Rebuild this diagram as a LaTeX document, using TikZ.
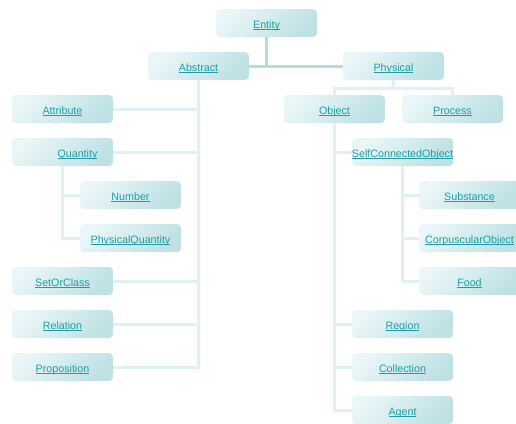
\documentclass[tikz,border=0pt]{standalone}
\usepackage{fontspec}
\setmainfont{Liberation Sans}

\definecolor{boxlight}{HTML}{EAF6F7}
\definecolor{boxdark}{HTML}{BEE1E4}
\definecolor{linktext}{HTML}{1E9EA6}
\definecolor{linelight}{HTML}{DFF1F2}
\definecolor{linedark}{HTML}{B3DDE0}

\newcommand{\lnk}[1]{\setbox0\hbox{#1}\rlap{\rule[-1.4pt]{\wd0}{0.6pt}}\box0}

\tikzset{
  cls/.style={rounded corners=4pt, minimum width=101pt, minimum height=28pt,
    inner sep=0pt, text height=10pt, text depth=0pt,
    top color=boxlight, bottom color=boxdark, shading angle=45,
    text=linktext, font=\fontsize{10.7}{12}\selectfont},
  branch/.style={draw=linelight, line width=3pt},
  trunk/.style={draw=linedark, line width=3pt}
}

\begin{document}
\begin{tikzpicture}[x=1pt, y=-1pt]
    \useasboundingbox (0,0) rectangle (516,423);
    \clip (0,0) rectangle (516,423);

    % 根节点
    \node[cls] (Entity) at (266.5,23) {\lnk{Entity}};
    \node[cls] (Abstract) at (198.5,66) {\lnk{Abstract}};
    \node[cls] (Physical) at (393.5,66) {\lnk{Physical}};

    % Abstract 的子类
    \node[cls] (Attribute) at (62.5,109) {\lnk{Attribute}};
    \node[cls] (Quantity) at (62.5,152) {\hspace*{30pt}\lnk{Quantity}};
    \node[cls] (Number) at (130.5,195) {\lnk{Number}};
    \node[cls] (PhysicalQuantity) at (130.5,238) {\lnk{PhysicalQuantity}};
    \node[cls] (SetOrClass) at (62.5,281) {\lnk{SetOrClass}};
    \node[cls] (Relation) at (62.5,324) {\lnk{Relation}};
    \node[cls] (Proposition) at (62.5,367) {\lnk{Proposition}};

    % Physical 的子类
    \node[cls] (Object) at (334.5,109) {\lnk{Object}};
    \node[cls] (Process) at (452.5,109) {\lnk{Process}};
    \node[cls] (SelfConnectedObject) at (402.5,152) {\lnk{SelfConnectedObject}};
    \node[cls] (Substance) at (469.5,195) {\lnk{Substance}};
    \node[cls] (CorpuscularObject) at (469.5,238) {\lnk{CorpuscularObject}};
    \node[cls] (Food) at (469.5,281) {\lnk{Food}};
    \node[cls] (Region) at (402.5,324) {\lnk{Region}};
    \node[cls] (Collection) at (402.5,367) {\lnk{Collection}};
    \node[cls] (Agent) at (402.5,410) {\lnk{Agent}};

    % 顶层连线
    \draw[trunk] (Entity.south) -- (Entity.south |- Abstract.east);
    \draw[trunk] (Abstract.east) -- (Physical.west);

    % 树枝连线
    \foreach \c in {Attribute,Quantity,SetOrClass,Relation,Proposition}
        \draw[branch] (Abstract.south) |- (\c.east);
    \foreach \c in {Number,PhysicalQuantity}
        \draw[branch] (Quantity.south) |- (\c.west);
    \foreach \c in {Object,Process}
        \draw[branch] (Physical.south) -- ++(0,8) -| (\c.north);
    \foreach \c in {SelfConnectedObject,Region,Collection,Agent}
        \draw[branch] (Object.south) |- (\c.west);
    \foreach \c in {Substance,CorpuscularObject,Food}
        \draw[branch] (SelfConnectedObject.south) |- (\c.west);
\end{tikzpicture}
\end{document}
